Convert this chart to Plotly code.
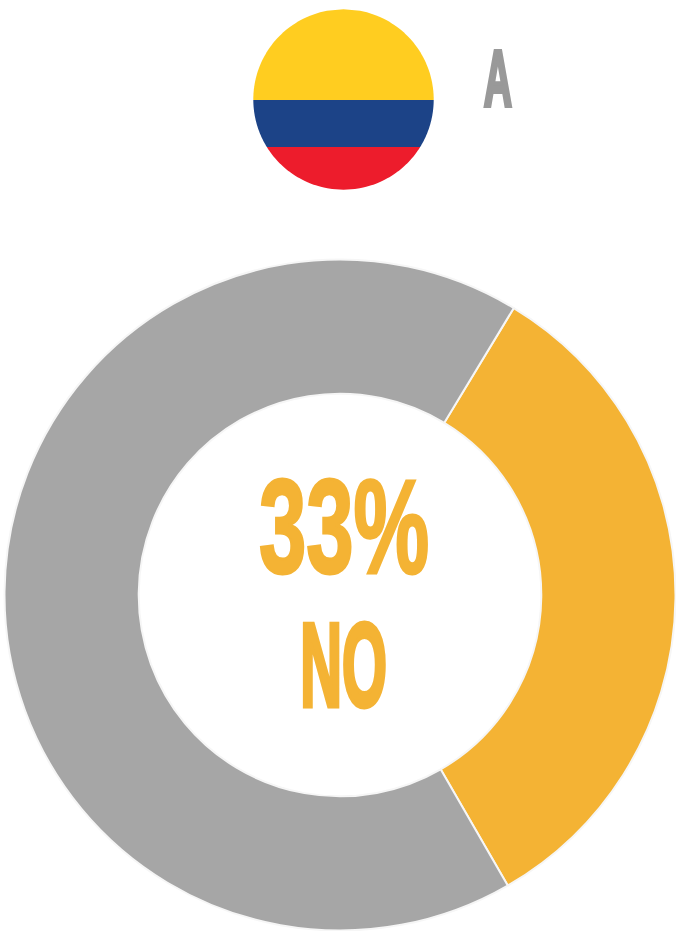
import numpy as np
import plotly.graph_objects as go

W, H = 676, 931
labels = ["NO", "SI"]
values = [33, 67]
slice_colors = ["#F4B334", "#A6A6A6"]
center_value = "33%"
center_label = "NO"
group_letter = "A"
flag_colors = ["#FFCD20", "#1C4387", "#ED1C2C"]


def px(x):
    return x / W


def py(y):
    return 1 - y / H


def band(y0, y1, cx=343.5, cy=99.5, r=90.2):
    ys = np.linspace(y0, y1, 60)
    dx = np.sqrt(np.maximum(r**2 - (ys - cy) ** 2, 0))
    pts = [(cx + d, y) for d, y in zip(dx, ys)] + [(cx - d, y) for d, y in zip(dx[::-1], ys[::-1])]
    return "M" + " L".join(f"{px(a):.5f},{py(b):.5f}" for a, b in pts) + " Z"


fig = go.Figure(
    go.Pie(
        labels=labels,
        values=values,
        hole=0.6,
        sort=False,
        direction="clockwise",
        rotation=31.2,
        textinfo="none",
        showlegend=False,
        marker=dict(colors=slice_colors, line=dict(color="#F6F6F6", width=2)),
        domain=dict(x=[px(4.5), px(675.5)], y=[py(930.5), py(259.5)]),
    )
)

bands = [(9.3, 100), (100, 147), (147, 189.7)]
shapes = [
    dict(type="path", xref="paper", yref="paper", path=band(a, b), fillcolor=c, line=dict(width=0), layer="above")
    for (a, b), c in zip(bands, flag_colors)
]

font = "Liberation Sans"
annotations = [
    dict(text=f"<b>{center_value}</b>", x=px(343.5), y=py(527), font=dict(family=font, size=133, color="#F4B334")),
    dict(text=f"<b>{center_label}</b>", x=px(343), y=py(665), font=dict(family=font, size=118, color="#F4B334")),
    dict(text=f"<b>{group_letter}</b>", x=px(498), y=py(79), font=dict(family=font, size=80, color="#999999")),
]
for a in annotations:
    a.update(xref="paper", yref="paper", xanchor="center", yanchor="middle", showarrow=False)

fig.update_layout(
    width=W,
    height=H,
    margin=dict(l=0, r=0, t=0, b=0),
    paper_bgcolor="white",
    plot_bgcolor="white",
    shapes=shapes,
    annotations=annotations,
)

post_script = """
document.documentElement.style.margin = '0';
document.body.style.margin = '0';
document.documentElement.style.overflow = 'hidden';
var sx = [0.64, 0.49, 0.49];
var sw = [3, 5, 4];
var col = ['#F4B334', '#F4B334', '#999999'];
document.querySelectorAll('text.annotation-text').forEach(function (t, i) {
    var b = t.getBBox();
    var c = b.x + b.width / 2;
    t.setAttribute('transform', 'translate(' + c + ',0) scale(' + sx[i] + ',1) translate(' + (-c) + ',0)');
    t.style.stroke = col[i];
    t.style.strokeWidth = sw[i] + 'px';
});
"""

fig.write_html("out.html", config=dict(displayModeBar=False), post_script=post_script)
